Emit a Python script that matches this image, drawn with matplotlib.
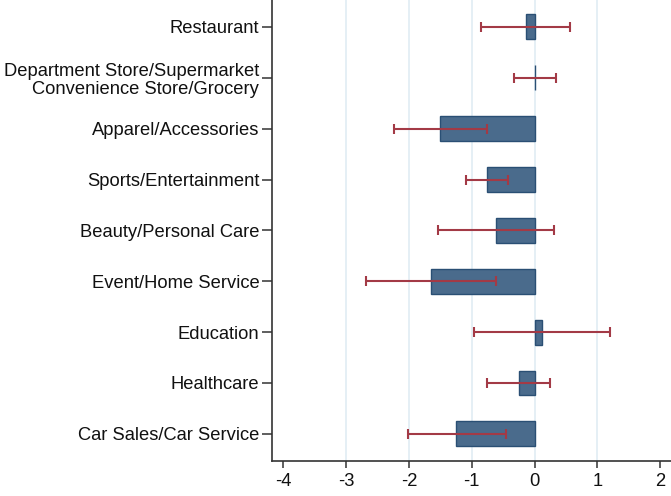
import numpy as np
import matplotlib
matplotlib.use("Agg")
import matplotlib.pyplot as plt

plt.rcParams['font.family'] = ['Liberation Sans', 'DejaVu Sans']

categories = [
    "Restaurant",
    "Department Store/Supermarket\nConvenience Store/Grocery",
    "Apparel/Accessories",
    "Sports/Entertainment",
    "Beauty/Personal Care",
    "Event/Home Service",
    "Education",
    "Healthcare",
    "Car Sales/Car Service",
]
estimates = [-0.14, 0.005, -1.50, -0.75, -0.61, -1.65, 0.12, -0.24, -1.25]
ci_low = [-0.85, -0.33, -2.23, -1.09, -1.54, -2.68, -0.97, -0.75, -2.02]
ci_high = [0.57, 0.34, -0.76, -0.42, 0.31, -0.62, 1.20, 0.25, -0.46]
xticks = [-4, -3, -2, -1, 0, 1, 2]

bar_color = "#4a6b8c"
edge_color = "#2a4f74"
err_color = "#a33a46"

fig = plt.figure(figsize=(6.71, 4.96), dpi=100)
ax = fig.add_axes([0.405, 0.071, 0.595, 0.929])

y = np.arange(len(categories))
est = np.array(estimates)
lo = np.array(ci_low)
hi = np.array(ci_high)

# light vertical grid lines at inner ticks
for t in xticks[1:-1]:
    ax.axvline(t, color="#e3eef5", lw=1.3, zorder=0)

ax.barh(y, est, height=0.49, color=bar_color, edgecolor=edge_color,
        linewidth=1.0, zorder=2)
ax.errorbar(est, y, xerr=[est - lo, hi - est], fmt="none", ecolor=err_color,
            elinewidth=1.5, capsize=3.3, capthick=1.5, zorder=3)

ax.set_yticks(y)
ax.set_yticklabels(categories, fontsize=13.2, color="#111111", linespacing=1.08)
ax.set_xticks(xticks)
ax.set_xticklabels([str(t) for t in xticks], fontsize=13.2, color="#111111")
ax.set_ylim(len(categories) - 0.47, -0.53)
ax.set_xlim(-4.18, 2.17)

ax.spines['top'].set_visible(False)
ax.spines['right'].set_visible(False)
for s in ('left', 'bottom'):
    ax.spines[s].set_color("#333333")
    ax.spines[s].set_linewidth(1.2)
ax.tick_params(axis='y', length=7, width=1.1, color="#333333", pad=2)
ax.tick_params(axis='x', length=5, width=1.1, color="#333333", pad=4)

fig.savefig("out.png", dpi=100)
